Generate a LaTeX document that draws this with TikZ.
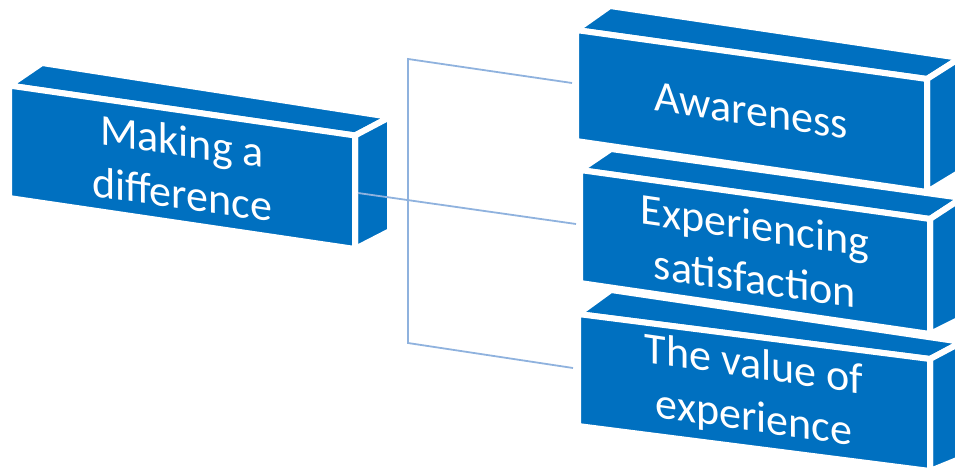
\documentclass[tikz,border=0pt]{standalone}
\usepackage{fontspec}
\setmainfont{Carlito}
\definecolor{boxblue}{RGB}{0,112,192}
\definecolor{linkblue}{RGB}{143,178,222}
\tikzset{
  face/.style={fill=boxblue, draw=white, line width=6pt, line join=round},
  label/.style={text=white, align=center, inner sep=0pt, yslant=-0.145,
    font=\fontsize{44}{53}\selectfont},
  conn/.style={draw=linkblue, line width=1.8pt}
}
\begin{document}
\begin{tikzpicture}[x=1pt,y=1pt]
\useasboundingbox (0,0) rectangle (955,-473);
\clip (0,0) rectangle (955,-473);
% left box
\filldraw[face] (42,-63) -- (390,-117) -- (355,-135.5) -- (9,-85.5) -- cycle;
\filldraw[face] (355,-135.5) -- (390,-117) -- (390,-231) -- (355,-249) -- cycle;
\filldraw[face] (9,-85.5) -- (355,-135.5) -- (355,-249) -- (9,-198) -- cycle;
% box 3
\filldraw[face] (611,-290) -- (962,-342) -- (930,-359) -- (578,-314) -- cycle;
\filldraw[face] (930,-359) -- (962,-342) -- (962,-458) -- (930,-471) -- cycle;
\filldraw[face] (578,-314) -- (930,-359) -- (930,-471) -- (578,-426) -- cycle;
% box 2
\filldraw[face] (611,-149) -- (962,-198) -- (930,-219) -- (580,-170) -- cycle;
\filldraw[face] (930,-219) -- (962,-198) -- (962,-318) -- (930,-334) -- cycle;
\filldraw[face] (580,-170) -- (930,-219) -- (930,-334) -- (580,-283) -- cycle;
% box 1
\filldraw[face] (610,-6) -- (960,-58) -- (927,-79) -- (576,-30) -- cycle;
\filldraw[face] (927,-79) -- (960,-58) -- (960,-172) -- (927,-192) -- cycle;
\filldraw[face] (576,-30) -- (927,-79) -- (927,-192) -- (576,-141) -- cycle;
% texts
\node[label] (mk) at (182,-167.5) {Making a\\difference};
\node[label] (aw) at (751,-111) {Awareness};
\node[label] (ex) at (755,-252) {Experiencing\\satisfaction};
\node[label] (tv) at (754,-393) {The value of\\experience};
% connector points
\coordinate (src) at (358,-193);
\coordinate (jt) at (408,-59);
\coordinate (jb) at (408,-343);
\coordinate (e1) at (572,-83);
\coordinate (e2) at (576,-224);
\coordinate (e3) at (573,-368);
\draw[conn] (src) -- (e2);
\draw[conn] (e1) -- (jt) -- (jb) -- (e3);
\end{tikzpicture}
\end{document}
